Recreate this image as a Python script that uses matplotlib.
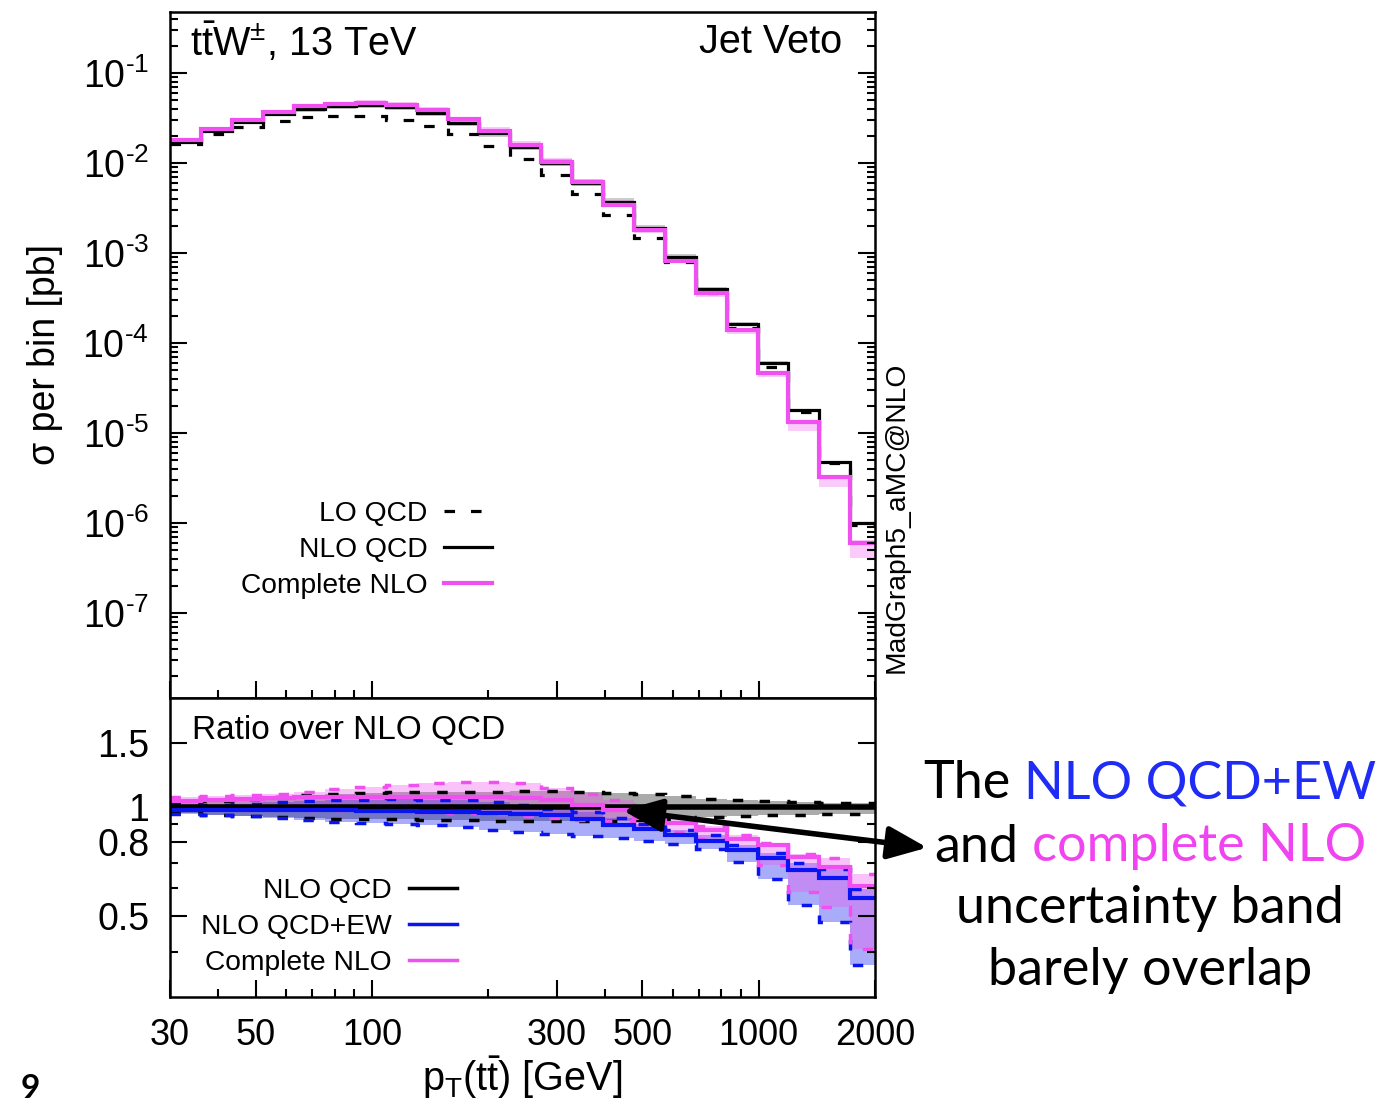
import numpy as np
import matplotlib
matplotlib.use('Agg')
import matplotlib.pyplot as plt
from matplotlib.lines import Line2D
from matplotlib.patches import FancyArrowPatch
from matplotlib.ticker import FixedLocator, FixedFormatter, NullFormatter, LogLocator

plt.rcParams['font.family'] = ['Liberation Sans', 'DejaVu Sans']
plt.rcParams['mathtext.fontset'] = 'custom'
plt.rcParams['mathtext.rm'] = 'Liberation Sans'
plt.rcParams['mathtext.it'] = 'Liberation Sans:italic'
plt.rcParams['mathtext.bf'] = 'Liberation Sans:bold'

# bin edges in pT(tt~) [GeV]
edges = [30, 36.07, 43.36, 52.13, 62.68, 75.36, 90.60, 108.9, 131.0, 157.4, 189.3,
         227.6, 273.6, 329.0, 395.5, 475.5, 571.6, 687.3, 826.3, 993.4, 1194,
         1436, 1726, 2000]

# sigma per bin [pb]
lo_qcd = [0.0163, 0.0210, 0.0251, 0.0293, 0.0325, 0.0333, 0.0333, 0.0301, 0.0258, 0.0210,
          0.0155, 0.0111, 7.36e-3, 4.53e-3, 2.64e-3, 1.47e-3, 7.9e-4, 3.6e-4, 1.47e-4,
          5.4e-5, 1.71e-5, 4.6e-6, 9.6e-7]
nlo_qcd = [0.0171, 0.0227, 0.0286, 0.0350, 0.0398, 0.0430, 0.0441, 0.0419, 0.0360, 0.0278,
           0.0215, 0.0151, 0.0100, 6.0e-3, 3.69e-3, 1.90e-3, 9.0e-4, 3.98e-4, 1.63e-4,
           6.0e-5, 1.8e-5, 4.76e-6, 1.0e-6]
complete_nlo = [0.0180, 0.0239, 0.0300, 0.0369, 0.0430, 0.0453, 0.0464, 0.0441, 0.0388,
                0.0308, 0.0227, 0.0158, 0.0103, 6.15e-3, 3.42e-3, 1.80e-3, 8.15e-4, 3.6e-4,
                1.39e-4, 4.64e-5, 1.33e-5, 3.24e-6, 6.0e-7]

# ratios over NLO QCD (central + scale band)
qcd_hi = [1.026, 1.039, 1.052, 1.065, 1.079, 1.086, 1.093, 1.100, 1.100, 1.100, 1.100, 1.107,
          1.107, 1.100, 1.093, 1.086, 1.072, 1.052, 1.045, 1.039, 1.032, 1.026, 1.026]
qcd_lo = [0.963, 0.951, 0.944, 0.939, 0.933, 0.927, 0.927, 0.927, 0.921, 0.921, 0.915, 0.915,
          0.915, 0.915, 0.915, 0.921, 0.927, 0.939, 0.944, 0.951, 0.951, 0.957, 0.957]

ew_hi = [1.006, 1.013, 1.019, 1.032, 1.039, 1.045, 1.045, 1.052, 1.045, 1.045, 1.032, 1.013,
         0.987, 0.969, 0.933, 0.898, 0.864, 0.837, 0.786, 0.747, 0.701, 0.675, 0.594]
ew_c = [0.981, 0.981, 0.981, 0.981, 0.981, 0.981, 0.975, 0.975, 0.969, 0.969, 0.963, 0.957,
        0.951, 0.927, 0.892, 0.870, 0.837, 0.806, 0.761, 0.724, 0.670, 0.637, 0.562]
ew_lo = [0.957, 0.951, 0.944, 0.933, 0.921, 0.909, 0.904, 0.898, 0.892, 0.881, 0.864, 0.853,
         0.843, 0.832, 0.822, 0.806, 0.791, 0.766, 0.706, 0.633, 0.537, 0.482, 0.367]

cn_hi = [1.065, 1.072, 1.079, 1.086, 1.100, 1.121, 1.135, 1.150, 1.164, 1.172, 1.172, 1.164,
         1.128, 1.086, 1.045, 0.987, 0.939, 0.886, 0.837, 0.796, 0.742, 0.724, 0.654]
cn_c = [1.039, 1.045, 1.052, 1.059, 1.065, 1.065, 1.065, 1.065, 1.065, 1.065, 1.065, 1.059,
        1.045, 1.013, 0.981, 0.933, 0.904, 0.864, 0.816, 0.786, 0.728, 0.683, 0.606]
cn_lo = [0.994, 0.994, 0.994, 0.987, 0.981, 0.981, 0.981, 0.975, 0.969, 0.963, 0.957, 0.944,
         0.933, 0.921, 0.915, 0.881, 0.853, 0.816, 0.766, 0.692, 0.583, 0.530, 0.406]

y_major = [1e-7, 1e-6, 1e-5, 1e-4, 1e-3, 1e-2, 1e-1]
y_major_labels = ['10$^{\u2010%d}$' % n for n in range(7, 0, -1)]

MAG = '#f050f0'
BLUE = '#0a14f0'
W, H = 1389, 1104

nlo = np.array(nlo_qcd)

fig = plt.figure(figsize=(W / 100, H / 100), dpi=100)
ax = fig.add_axes([170 / W, 1 - 698 / H, 705 / W, 686 / H])
axr = fig.add_axes([170 / W, 1 - 997 / H, 705 / W, 299 / H])

# main panel
ax.stairs(nlo * np.array(qcd_hi), edges, baseline=nlo * np.array(qcd_lo), fill=True,
          color='k', alpha=0.2, lw=0)
ax.stairs(nlo * np.array(cn_hi), edges, baseline=nlo * np.array(cn_lo), fill=True,
          color=MAG, alpha=0.3, lw=0)
ax.stairs(lo_qcd, edges, baseline=None, color='k', lw=2.3, ls=(0, (3.3, 5)))
ax.stairs(nlo_qcd, edges, baseline=None, color='k', lw=2.3)
ax.stairs(complete_nlo, edges, baseline=None, color=MAG, lw=3)

ax.set_xscale('log')
ax.set_yscale('log')
ax.set_xlim(30, 2000)
ax.set_ylim(1.137e-8, 0.476)
ax.yaxis.set_major_locator(FixedLocator(y_major))
ax.yaxis.set_major_formatter(FixedFormatter(y_major_labels))
ax.yaxis.set_minor_locator(LogLocator(base=10, subs=np.arange(2, 10), numticks=30))
ax.yaxis.set_minor_formatter(NullFormatter())

ax.text(0.028, 0.956, r't$\bar{\mathrm{t}}$W$^{\pm}$, 13 TeV', transform=ax.transAxes,
        fontsize=28.5, va='center', ha='left')
ax.text(0.953, 0.956, 'Jet Veto', transform=ax.transAxes, fontsize=28.5, va='center',
        ha='right')

h_main = [Line2D([], [], color='k', lw=2.3, ls=(0, (3.3, 5))),
          Line2D([], [], color='k', lw=2.3),
          Line2D([], [], color=MAG, lw=3)]
ax.legend(h_main, ['LO QCD', 'NLO QCD', 'Complete NLO'], loc='center right',
          bbox_to_anchor=(0.457, 0.216), markerfirst=False, frameon=False, fontsize=20.3,
          handlelength=1.7, handletextpad=0.6, labelspacing=0.36, borderpad=0,
          borderaxespad=0)

# ratio panel
axr.stairs(qcd_hi, edges, baseline=qcd_lo, fill=True, color='k', alpha=0.33, lw=0)
axr.stairs(ew_hi, edges, baseline=ew_lo, fill=True, color=BLUE, alpha=0.35, lw=0)
axr.stairs(cn_hi, edges, baseline=cn_lo, fill=True, color=MAG, alpha=0.34, lw=0)

dash = (0, (3, 5))
for band, col in [(qcd_hi, 'k'), (qcd_lo, 'k'), (ew_hi, BLUE), (ew_lo, BLUE),
                  (cn_hi, MAG), (cn_lo, MAG)]:
    axr.stairs(band, edges, baseline=None, color=col, lw=2.5, ls=dash)
axr.stairs(nlo / nlo, edges, baseline=None, color='k', lw=4)
axr.stairs(ew_c, edges, baseline=None, color=BLUE, lw=3)
axr.stairs(cn_c, edges, baseline=None, color=MAG, lw=3)

axr.set_xscale('log')
axr.set_yscale('log')
axr.set_xlim(30, 2000)
axr.set_ylim(0.3, 2.0)
axr.yaxis.set_major_locator(FixedLocator([0.5, 0.8, 1, 1.5]))
axr.yaxis.set_major_formatter(FixedFormatter(['0.5', '0.8', '1', '1.5']))
axr.yaxis.set_minor_locator(FixedLocator([0.4, 0.6, 0.7, 0.9]))
axr.yaxis.set_minor_formatter(NullFormatter())

axr.text(0.031, 0.890, 'Ratio over NLO QCD', transform=axr.transAxes, fontsize=24,
         va='center', ha='left')

h_rat = [Line2D([], [], color='k', lw=2.5),
         Line2D([], [], color=BLUE, lw=2.5),
         Line2D([], [], color=MAG, lw=2.5)]
axr.legend(h_rat, ['NLO QCD', 'NLO QCD+EW', 'Complete NLO'], loc='center right',
           bbox_to_anchor=(0.407, 0.234), markerfirst=False, frameon=False, fontsize=20.3,
           handlelength=1.7, handletextpad=0.6, labelspacing=0.36, borderpad=0,
           borderaxespad=0)

x_major = [30, 50, 100, 300, 500, 1000, 2000]
x_minor = [40, 60, 70, 80, 90, 200, 400, 600, 700, 800, 900]
for a in (ax, axr):
    a.xaxis.set_major_locator(FixedLocator(x_major))
    a.xaxis.set_minor_locator(FixedLocator(x_minor))
    a.xaxis.set_minor_formatter(NullFormatter())
    a.tick_params(which='both', direction='in', left=True, right=True, top=False,
                  bottom=True, labelsize=27, width=1.5)
    a.tick_params(which='major', length=12, pad=15)
    a.tick_params(which='minor', length=6)
    for s in a.spines.values():
        s.set_linewidth(1.8)
axr.xaxis.set_major_formatter(FixedFormatter([str(v) for v in x_major]))
axr.tick_params(axis='x', labelsize=26)
ax.tick_params(labelbottom=False)

fig.text(45 / W, 1 - 355 / H, 'σ per bin [pb]', rotation=90, fontsize=27,
         ha='center', va='center')
fig.text(522 / W, 1 - 1078 / H, r'p$_\mathrm{T}$(t$\bar{\mathrm{t}}$) [GeV]', fontsize=28.5,
         ha='center', va='center')
fig.text(897 / W, 1 - 517 / H, 'MadGraph5_aMC@NLO', rotation=90, fontsize=20.3,
         ha='center', va='center')
fig.text(30 / W, 1 - 1088 / H, '9', fontsize=24, fontweight='bold', family='Lato',
         ha='center', va='center')

# double arrow between the bands and the comment
arrow = FancyArrowPatch((620 / W, 1 - 810 / H), (930 / W, 1 - 848 / H),
                        transform=fig.transFigure,
                        arrowstyle='<|-|>,head_length=1.2,head_width=0.5',
                        mutation_scale=20, lw=4, color='k')
fig.add_artist(arrow)

# comment text with coloured words
renderer = fig.canvas.get_renderer()
fs = 37.5
t1 = fig.text(0, 0, 'aa', fontsize=fs, family='Lato')
t2 = fig.text(0, 0, 'a a', fontsize=fs, family='Lato')
gap = t2.get_window_extent(renderer).width - t1.get_window_extent(renderer).width
t1.remove()
t2.remove()


def colour_line(yc, parts, xc=1150):
    texts = [fig.text(0, 1 - yc / H, s, color=c, fontsize=fs, family='Lato', va='center')
             for s, c in parts]
    widths = [t.get_window_extent(renderer).width for t in texts]
    x = xc - (sum(widths) + gap * (len(parts) - 1)) / 2
    for t, w in zip(texts, widths):
        t.set_x(x / W)
        x += w + gap


colour_line(784, [('The', 'k'), ('NLO QCD+EW', '#1e2cf5')])
colour_line(847, [('and', 'k'), ('complete NLO', '#f044f0')])
colour_line(909, [('uncertainty band', 'k')])
colour_line(970, [('barely overlap', 'k')])

fig.savefig('out.png', dpi=100)
